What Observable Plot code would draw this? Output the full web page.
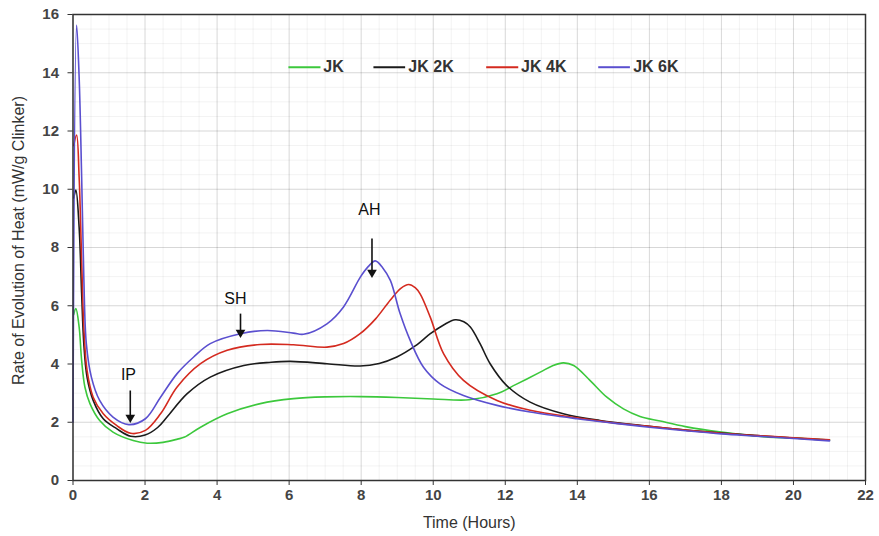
<!DOCTYPE html>
<html>
<head>
<meta charset="utf-8">
<script src="https://cdn.jsdelivr.net/npm/d3@7"></script>
<script src="https://cdn.jsdelivr.net/npm/@observablehq/plot@0.6"></script>
<style>
  html, body { margin: 0; padding: 0; background: #fff; }
  #chart { width: 879px; height: 536px; }
</style>
</head>
<body>
<div id="chart"></div>
<script>
// ---- Data ----
const jkTime = [0.02, 0.08, 0.17, 0.24, 0.33, 0.47, 0.74, 1.11, 1.67, 2.06, 2.5, 2.9, 3.1, 3.54, 4.28, 5.2, 6.12, 7.0, 8.0, 9.0, 10.0, 11.0, 11.77, 12.3, 12.97, 13.3, 13.61, 13.9, 14.35, 14.82, 15.28, 15.74, 16.3, 17.0, 18.0, 19.3, 20.0, 21.0];
const jkRate = [5.7, 5.9, 5.27, 4.12, 3.21, 2.64, 2.06, 1.66, 1.37, 1.28, 1.31, 1.42, 1.49, 1.83, 2.29, 2.64, 2.81, 2.87, 2.88, 2.85, 2.80, 2.77, 2.98, 3.3, 3.72, 3.93, 4.04, 3.95, 3.44, 2.86, 2.46, 2.20, 2.04, 1.85, 1.66, 1.49, 1.46, 1.39];

const jk2kTime = [0.02, 0.08, 0.17, 0.24, 0.30, 0.39, 0.56, 0.84, 1.21, 1.6, 2.0, 2.35, 2.61, 3.17, 3.81, 4.74, 5.5, 6.03, 7.05, 7.97, 8.5, 8.99, 9.5, 9.92, 10.3, 10.61, 10.85, 11.03, 11.3, 11.58, 12.04, 12.69, 13.61, 14.63, 16.0, 17.0, 18.0, 19.0, 20.0, 21.0];
const jk2kRate = [9.7, 9.97, 8.70, 6.42, 4.70, 3.55, 2.75, 2.12, 1.78, 1.52, 1.56, 1.82, 2.18, 2.98, 3.55, 3.95, 4.06, 4.09, 4.01, 3.93, 4.02, 4.24, 4.62, 5.04, 5.35, 5.52, 5.45, 5.27, 4.7, 4.01, 3.26, 2.69, 2.29, 2.06, 1.86, 1.73, 1.63, 1.54, 1.46, 1.38];

const jk4kTime = [0.02, 0.1, 0.17, 0.24, 0.30, 0.39, 0.56, 0.84, 1.21, 1.6, 2.01, 2.43, 2.89, 3.54, 4.28, 5.2, 6.12, 7.05, 7.51, 7.97, 8.4, 8.81, 9.1, 9.32, 9.5, 9.64, 9.92, 10.29, 10.84, 11.77, 12.69, 13.99, 15.0, 16.0, 17.0, 18.0, 19.0, 20.0, 21.0];
const jk4kRate = [11.5, 11.86, 10.42, 7.56, 5.27, 3.78, 2.86, 2.29, 1.89, 1.62, 1.72, 2.29, 3.21, 4.01, 4.47, 4.67, 4.66, 4.58, 4.70, 5.04, 5.55, 6.2, 6.6, 6.73, 6.62, 6.4, 5.6, 4.35, 3.44, 2.75, 2.41, 2.15, 1.98, 1.86, 1.73, 1.62, 1.54, 1.47, 1.40];

const jk6kTime = [0, 0.1, 0.17, 0.24, 0.30, 0.37, 0.51, 0.74, 1.11, 1.55, 2.01, 2.43, 2.89, 3.35, 3.81, 4.65, 5.39, 6.12, 6.4, 7.05, 7.51, 7.98, 8.2, 8.39, 8.6, 8.81, 9.08, 9.36, 9.73, 10.19, 10.84, 11.77, 12.69, 13.99, 15.0, 16.0, 17.0, 18.0, 19.0, 20.0, 21.0];
const jk6kRate = [2.0, 15.64, 13.86, 10.42, 6.99, 4.70, 3.55, 2.75, 2.18, 1.92, 2.12, 2.86, 3.67, 4.24, 4.70, 5.04, 5.15, 5.06, 5.02, 5.38, 5.96, 6.99, 7.35, 7.54, 7.3, 6.87, 5.73, 4.81, 3.89, 3.32, 2.92, 2.58, 2.35, 2.12, 1.97, 1.83, 1.71, 1.60, 1.52, 1.44, 1.36];

const seriesNames = ["JK", "JK 2K", "JK 4K", "JK 6K"];
const seriesColors = ["#3cc83c", "#1b1b1b", "#d42a1f", "#5a4fcf"];

const xTicks = [0, 2, 4, 6, 8, 10, 12, 14, 16, 18, 20, 22];
const yTicks = [0, 2, 4, 6, 8, 10, 12, 14, 16];
const xMinorTicks = d3.range(0, 22.001, 0.5);
const yMinorTicks = d3.range(0, 16.001, 0.5);

// annotations
const annLabels = ["IP", "SH", "AH"];
const annTextX = [1.54, 4.51, 8.23];
const annTextY = [3.64, 6.24, 9.28];
const annArrowX = [1.59, 4.65, 8.30];
const annArrowTop = [3.09, 5.73, 8.31];
const annArrowTip = [2.06, 4.98, 7.04];

// legend placement (in data units, inside the plot)
const legendY = 14.19;
const legendLineX1 = [5.98, 8.34, 11.47, 14.58];
const legendLineX2 = [6.87, 9.22, 12.36, 15.46];
const legendTextX = [6.95, 9.31, 12.44, 15.55];

// ---- build tables ----
const allTimes = [jkTime, jk2kTime, jk4kTime, jk6kTime];
const allRates = [jkRate, jk2kRate, jk4kRate, jk6kRate];
const rows = [];
seriesNames.forEach((name, i) => {
  allTimes[i].forEach((t, j) => rows.push({series: name, time: t, rate: allRates[i][j]}));
});
const legendRows = seriesNames.map((name, i) => ({
  series: name, x1: legendLineX1[i], x2: legendLineX2[i], tx: legendTextX[i], y: legendY
}));
const annRows = annLabels.map((l, i) => ({
  label: l, tx: annTextX[i], ty: annTextY[i], ax: annArrowX[i], y1: annArrowTop[i], y2: annArrowTip[i]
}));

const colorOf = Object.fromEntries(seriesNames.map((n, i) => [n, seriesColors[i]]));

const chart = Plot.plot({
  width: 879,
  height: 536,
  marginLeft: 72.5,
  marginRight: 14,
  marginTop: 14,
  marginBottom: 56,
  style: {fontFamily: "'Liberation Sans', Arial, sans-serif", background: "#fff", overflow: "visible"},
  x: {domain: [0, 22]},
  y: {domain: [0, 16]},
  marks: [
    Plot.gridX(xMinorTicks, {stroke: "#000", strokeOpacity: 0.05}),
    Plot.gridY(yMinorTicks, {stroke: "#000", strokeOpacity: 0.05}),
    Plot.gridX(xTicks, {stroke: "#000", strokeOpacity: 0.11}),
    Plot.gridY(yTicks, {stroke: "#000", strokeOpacity: 0.11}),
    Plot.axisX(xTicks, {
      tickSize: 5, tickPadding: 4, fontSize: 15, fontWeight: "bold", fill: "#444", stroke: "#333",
      label: "Time (Hours)", labelAnchor: "center", labelOffset: 47, labelArrow: "none"
    }),
    Plot.axisY(yTicks, {
      tickSize: 5, tickPadding: 9, fontSize: 15, fontWeight: "bold", fill: "#444", stroke: "#333",
      label: "Rate of Evolution of Heat (mW/g Clinker)", labelAnchor: "center", labelOffset: 60, labelArrow: "none"
    }),
    ...seriesNames.map(name =>
      Plot.line(rows.filter(d => d.series === name), {
        x: "time", y: "rate", stroke: colorOf[name], strokeWidth: 1.6, curve: "catmull-rom"
      })
    ),
    Plot.frame({stroke: "#333", strokeWidth: 1.5}),
    // legend
    Plot.link(legendRows, {x1: "x1", x2: "x2", y1: "y", y2: "y", stroke: d => colorOf[d.series], strokeWidth: 2}),
    Plot.text(legendRows, {x: "tx", y: "y", text: "series", textAnchor: "start", fontSize: 16, fontWeight: "bold", fill: "#333"}),
    // annotations
    Plot.text(annRows, {x: "tx", y: "ty", text: "label", fontSize: 16, fill: "#111"}),
    Plot.link(annRows, {x1: "ax", x2: "ax", y1: "y1", y2: "y2", stroke: "#111", strokeWidth: 1.6}),
    Plot.dot(annRows, {x: "ax", y: "y2", symbol: "triangle", rotate: 180, r: 3.6, fill: "#111", stroke: "none", dy: -3})
  ]
});

// axis titles: normal weight, slightly larger
const sel = d3.select(chart);
sel.selectAll('g[aria-label="x-axis label"], g[aria-label="y-axis label"]')
  .attr("font-weight", "normal").attr("font-size", 16).attr("fill", "#333");
const yl = sel.select('g[aria-label="y-axis label"]');
if (!yl.empty()) yl.attr("transform", `translate(0,-7) ${yl.attr("transform") || ""}`);

document.getElementById("chart").appendChild(chart);
</script>
</body>
</html>
